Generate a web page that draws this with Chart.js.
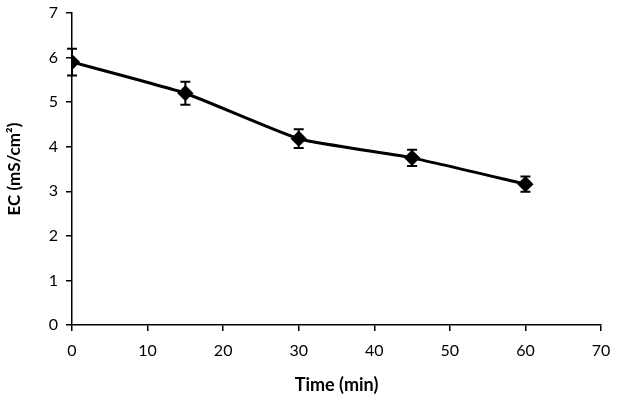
<!DOCTYPE html>
<html>
<head>
<meta charset="utf-8">
<script src="https://cdn.jsdelivr.net/npm/chart.js@4/dist/chart.umd.min.js"></script>
<style>
  html, body { margin: 0; padding: 0; background: #fff; }
  #wrap { width: 618px; height: 406px; }
</style>
</head>
<body>
<div id="wrap"><canvas id="ec_chart"></canvas></div>
<script>
// time in minutes and EC readings (mS/cm2) with +/- error
var times = [0, 15, 30, 45, 60];
var ecValues = [5.90, 5.20, 4.18, 3.75, 3.16];
var ecErrors = [0.30, 0.26, 0.21, 0.18, 0.17];

var points = [];
for (let i = 0; i < times.length; i++) {
  points.push({ x: times[i], y: ecValues[i] });
}

// draws the error bars with caps
var errorBars = {
  id: 'errorBars',
  afterDatasetsDraw: function(chart) {
    var ctx = chart.ctx;
    var xs = chart.scales.x;
    var ys = chart.scales.y;
    ctx.save();
    ctx.strokeStyle = '#000';
    ctx.lineWidth = 2;
    for (let i = 0; i < times.length; i++) {
      var px = xs.getPixelForValue(times[i]);
      var top = ys.getPixelForValue(ecValues[i] + ecErrors[i]);
      var bot = ys.getPixelForValue(ecValues[i] - ecErrors[i]);
      ctx.beginPath();
      ctx.moveTo(px, top); ctx.lineTo(px, bot);
      ctx.moveTo(px - 5, top); ctx.lineTo(px + 5, top);
      ctx.moveTo(px - 5, bot); ctx.lineTo(px + 5, bot);
      ctx.stroke();
    }
    ctx.restore();
  }
};

Chart.defaults.font.family = 'Lato, "Open Sans", sans-serif';
Chart.defaults.color = '#000';

var chart_element = document.getElementById('ec_chart').getContext('2d');
var myChart = new Chart(chart_element, {
  type: 'line',
  data: {
    datasets: [{
      label: 'EC',
      data: points,
      borderColor: '#000',
      backgroundColor: '#000',
      borderWidth: 3,
      tension: 0.15,
      pointStyle: 'rectRot',
      pointRadius: 6,
      pointHoverRadius: 6
    }]
  },
  options: {
    responsive: true,
    maintainAspectRatio: false,
    animation: false,
    layout: { autoPadding: false, padding: { top: 13, right: 17, left: 0, bottom: 0 } },
    plugins: {
      legend: { display: false },
      tooltip: { enabled: false }
    },
    scales: {
      x: {
        type: 'linear',
        min: 0,
        max: 70,
        afterFit: function(scale) {
          scale.height = 81;
          scale.paddingLeft = 0;
          scale.paddingRight = 0;
        },
        border: { color: '#000', width: 1.5 },
        grid: { drawOnChartArea: false, color: '#000', tickLength: 6, lineWidth: 1.5 },
        ticks: { stepSize: 10, font: { size: 16 }, padding: 10 },
        title: {
          display: true,
          text: 'Time (min)',
          font: { size: 18, weight: 'bold' },
          padding: { top: 4, bottom: 10 }
        }
      },
      y: {
        min: 0,
        max: 7,
        afterFit: function(scale) {
          scale.width = 72;
          scale.paddingTop = 0;
          scale.paddingBottom = 0;
        },
        border: { color: '#000', width: 1.5 },
        grid: { drawOnChartArea: false, color: '#000', tickLength: 6, lineWidth: 1.5 },
        ticks: { stepSize: 1, font: { size: 16 }, padding: 8 },
        title: {
          display: true,
          text: 'EC (mS/cm²)',
          font: { size: 17, weight: 'bold' },
          padding: { top: 4, bottom: 4 }
        }
      }
    }
  },
  plugins: [errorBars]
});
</script>
</body>
</html>
